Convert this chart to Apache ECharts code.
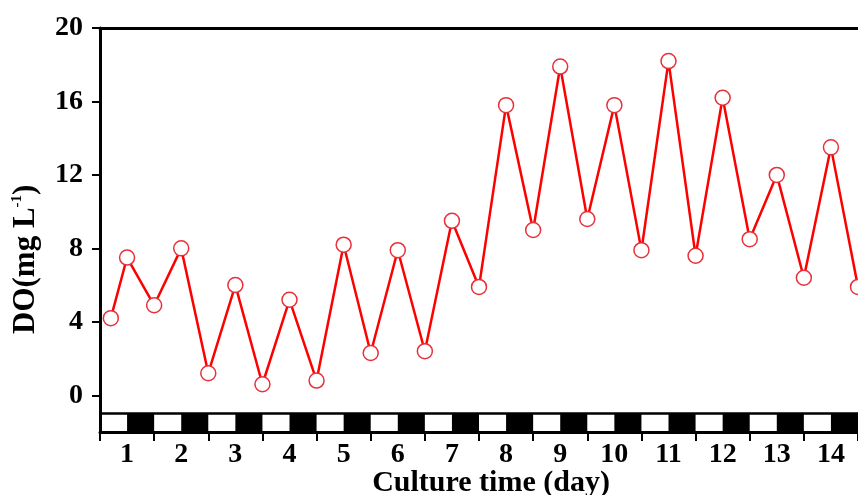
<!DOCTYPE html>
<html>
<head>
<meta charset="utf-8">
<script src="https://cdn.jsdelivr.net/npm/echarts@6/dist/echarts.min.js"></script>
<style>
  html, body { margin: 0; padding: 0; background: #fff; }
  #main { width: 858px; height: 495px; }
</style>
</head>
<body>
<div id="main"></div>
<script>
// 采样时间 (天) 与溶解氧
const times = [0.2, 0.5, 1, 1.5, 2, 2.5, 3, 3.5, 4, 4.5, 5, 5.5, 6, 6.5, 7, 7.5,
  8, 8.5, 9, 9.5, 10, 10.5, 11, 11.5, 12, 12.5, 13, 13.5, 14];
const doValues = [4.2, 7.5, 4.9, 8.0, 1.2, 6.0, 0.6, 5.2, 0.8, 8.2, 2.3, 7.9, 2.4, 9.5, 5.9,
  15.8, 9.0, 17.9, 9.6, 15.8, 7.9, 18.2, 7.6, 16.2, 8.5, 12.0, 6.4, 13.5, 5.9];

// 坐标轴刻度
const dayLabels = ['1', '2', '3', '4', '5', '6', '7', '8', '9', '10', '11', '12', '13', '14'];
const dayLabelPos = [0.5, 1.5, 2.5, 3.5, 4.5, 5.5, 6.5, 7.5, 8.5, 9.5, 10.5, 11.5, 12.5, 13.5];
const dayTicks = [0, 1, 2, 3, 4, 5, 6, 7, 8, 9, 10, 11, 12, 13, 14];
const yTicks = [0, 4, 8, 12, 16, 20];

// 黑夜时段 (每天后半段)
const nightStart = [0.5, 1.5, 2.5, 3.5, 4.5, 5.5, 6.5, 7.5, 8.5, 9.5, 10.5, 11.5, 12.5, 13.5];
const nightEnd = [1, 2, 3, 4, 5, 6, 7, 8, 9, 10, 11, 12, 13, 14];

const font = 'Liberation Serif';
const chart = echarts.init(document.getElementById('main'));

const option = {
  animation: false,
  grid: { left: 100, right: 0, top: 28, bottom: 63, outerBoundsMode: 'none', containLabel: false },
  xAxis: [
    {
      type: 'value',
      min: 0,
      max: 14,
      splitLine: { show: false },
      axisLine: { onZero: false, lineStyle: { color: '#000', width: 3 } },
      axisTick: {
        customValues: dayTicks,
        length: 9,
        lineStyle: { color: '#000', width: 2 },
      },
      axisLabel: {
        customValues: dayLabelPos,
        formatter: (v) => dayLabels[dayLabelPos.indexOf(v)],
        margin: 9,
        color: '#000',
        fontFamily: font,
        fontWeight: 'bold',
        fontSize: 28,
      },
      name: 'Culture time (day)',
      nameLocation: 'middle',
      nameGap: 36,
      nameMoveOverlap: false,
      nameTextStyle: {
        color: '#000',
        fontFamily: font,
        fontWeight: 'bold',
        fontSize: 30,
        padding: [0, 0, 0, 24],
      },
    },
    {
      type: 'value',
      position: 'top',
      min: 0,
      max: 14,
      splitLine: { show: false },
      axisLine: { show: true, onZero: false, lineStyle: { color: '#000', width: 3 } },
      axisTick: { show: false },
      axisLabel: { show: false },
    },
  ],
  yAxis: {
    type: 'value',
    min: -2,
    max: 20,
    splitLine: { show: false },
    axisLine: { show: true, onZero: false, lineStyle: { color: '#000', width: 3 } },
    axisTick: {
      show: true,
      customValues: yTicks,
      length: 8,
      lineStyle: { color: '#000', width: 2 },
    },
    axisLabel: {
      customValues: yTicks,
      margin: 17,
      color: '#000',
      fontFamily: font,
      fontWeight: 'bold',
      fontSize: 28,
    },
  },
  graphic: [
    {
      type: 'text',
      x: 10,
      y: 334,
      rotation: Math.PI / 2,
      style: {
        text: '{a|DO(mg L}{s|-1}{a|)}',
        rich: {
          a: { fontFamily: font, fontWeight: 'bold', fontSize: 31, fill: '#000' },
          s: { fontFamily: font, fontWeight: 'bold', fontSize: 15, fill: '#000', verticalAlign: 'top', padding: [0, 0, 12, 0] },
        },
      },
    },
  ],
  series: [
    {
      type: 'line',
      data: times.map((t, i) => [t, doValues[i]]),
      symbol: 'circle',
      symbolSize: 15,
      showAllSymbol: true,
      lineStyle: { color: '#ff0000', width: 2.5 },
      itemStyle: { color: '#fff', borderColor: '#e8303a', borderWidth: 1.5 },
      z: 5,
    },
    {
      // 昼夜条
      type: 'line',
      data: [],
      silent: true,
      markArea: {
        silent: true,
        itemStyle: { color: '#000', opacity: 1 },
        data: nightStart.map((s, i) => [
          { xAxis: s, yAxis: -2 },
          { xAxis: nightEnd[i], yAxis: -1 },
        ]),
      },
      markLine: {
        silent: true,
        symbol: 'none',
        label: { show: false },
        lineStyle: { color: '#000', width: 2.5, type: 'solid' },
        data: [{ yAxis: -1 }],
      },
    },
  ],
};

chart.setOption(option);
</script>
</body>
</html>
